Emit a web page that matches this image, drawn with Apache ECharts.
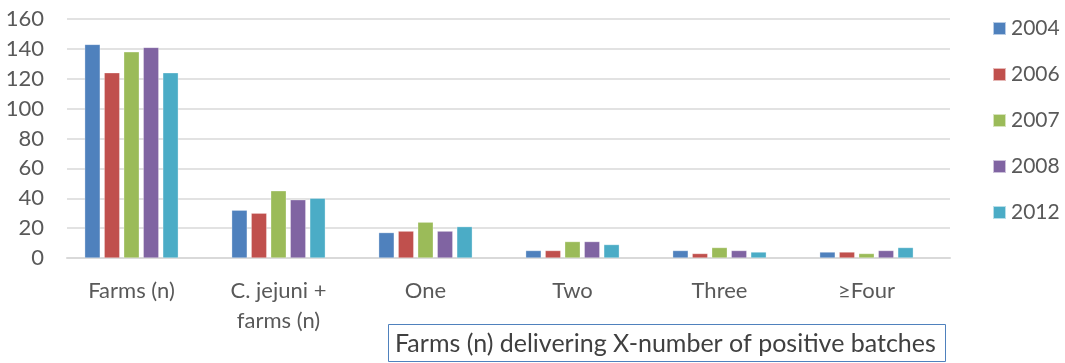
<!DOCTYPE html>
<html>
<head>
    <meta charset="utf-8">
    <script src="https://cdn.jsdelivr.net/npm/echarts@6/dist/echarts.min.js"></script>
</head>
<body style="margin:0;background:#fff">
    <div id="main" style="width:1065px;height:363px;"></div>
    <script type="text/javascript">
        // categories and series
        var categories = ['Farms (n)', 'C. jejuni +\nfarms (n)', 'One', 'Two', 'Three', '\u2265Four'];
        var years = ['2004', '2006', '2007', '2008', '2012'];
        var y2004 = [143, 32, 17, 5, 5, 4];
        var y2006 = [124, 30, 18, 5, 3, 4];
        var y2007 = [138, 45, 24, 11, 7, 3];
        var y2008 = [141, 39, 18, 11, 5, 5];
        var y2012 = [124, 40, 21, 9, 4, 7];
        var yTicks = [0, 20, 40, 60, 80, 100, 120, 140, 160];

        var colors = ['#4f81bd', '#c0504d', '#9bbb59', '#8064a2', '#4bacc6'];
        var font = 'Lato, "Open Sans", sans-serif';
        var allData = [y2004, y2006, y2007, y2008, y2012];

        var series = [];
        for (var i = 0; i < years.length; i++) {
            series.push({
                name: years[i],
                type: 'bar',
                xAxisIndex: 1,
                yAxisIndex: 1,
                barWidth: 15.5,
                barGap: '26%',
                itemStyle: {
                    color: colors[i],
                    borderColor: 'rgba(255,255,255,0.6)',
                    borderWidth: 0.5
                },
                data: allData[i]
            });
        }

        var option = {
            animation: false,
            color: colors,
            title: {
                text: 'Farms (n) delivering X-number of positive batches',
                left: 388,
                top: 324,
                padding: [7, 10, 6, 7],
                borderColor: '#4f81bd',
                borderWidth: 1,
                textStyle: {
                    fontFamily: font,
                    fontSize: 25,
                    lineHeight: 25,
                    fontWeight: 'normal',
                    color: '#404040'
                }
            },
            legend: {
                orient: 'vertical',
                left: 992,
                top: 18,
                padding: 0,
                itemWidth: 13,
                itemHeight: 13,
                itemGap: 25,
                icon: 'rect',
                textStyle: {
                    fontFamily: font,
                    fontSize: 21,
                    lineHeight: 20,
                    color: '#595959'
                },
                data: years
            },
            // grid 0 carries the value axis and gridlines, grid 1 the bars (Excel offsets them a little)
            grid: [
                {left: 67, right: 115, top: 19, bottom: 105},
                {left: 58, right: 125, top: 19, bottom: 105}
            ],
            xAxis: [
                {
                    gridIndex: 0,
                    type: 'category',
                    data: categories,
                    axisLine: {lineStyle: {color: '#d9d9d9', width: 2}},
                    axisTick: {show: false},
                    axisLabel: {show: false}
                },
                {
                    gridIndex: 1,
                    type: 'category',
                    data: categories,
                    axisLine: {show: false},
                    axisTick: {show: false},
                    axisLabel: {
                        fontFamily: font,
                        fontSize: 22,
                        color: '#595959',
                        margin: 18,
                        lineHeight: 30
                    }
                }
            ],
            yAxis: [
                {
                    gridIndex: 0,
                    type: 'value',
                    min: yTicks[0],
                    max: yTicks[yTicks.length - 1],
                    interval: 20,
                    axisLine: {show: false},
                    axisTick: {show: false},
                    splitLine: {lineStyle: {color: '#d9d9d9', width: 1.5}},
                    axisLabel: {
                        fontFamily: font,
                        fontSize: 22,
                        color: '#595959',
                        margin: 23
                    }
                },
                {
                    gridIndex: 1,
                    type: 'value',
                    min: yTicks[0],
                    max: yTicks[yTicks.length - 1],
                    interval: 20,
                    show: false,
                    splitLine: {show: false}
                }
            ],
            series: series
        };

        var myChart = echarts.init(document.getElementById('main'));
        myChart.setOption(option);
    </script>
</body>
</html>
